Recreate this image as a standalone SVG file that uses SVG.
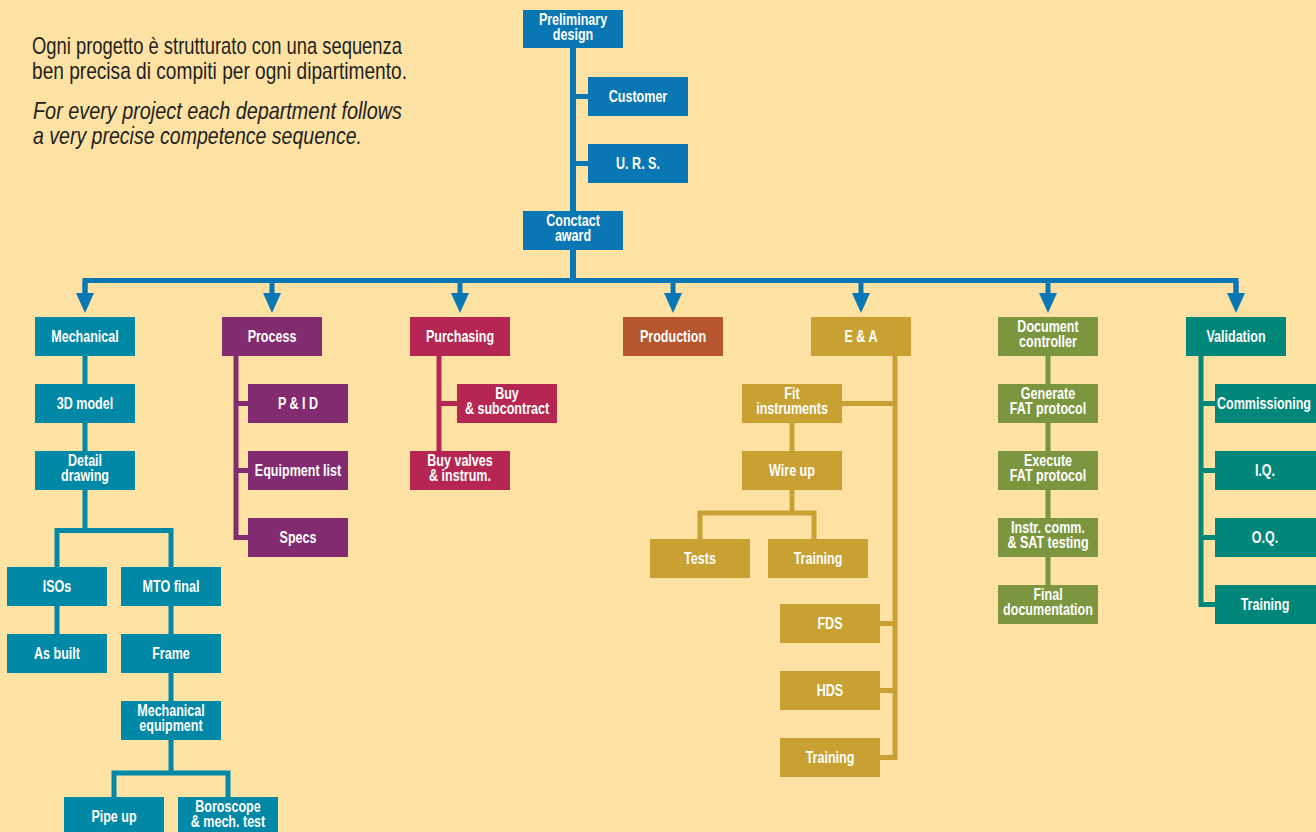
<svg xmlns="http://www.w3.org/2000/svg" width="1316" height="832" viewBox="0 0 1316 832">
<defs>
<style>
.lbl{font-family:"Liberation Sans",Arial,sans-serif;font-weight:bold;font-size:16.5px;fill:#ffffff;text-anchor:middle}
.intro{font-family:"Liberation Sans",Arial,sans-serif;font-size:24px;fill:#231f20}
.it{font-style:italic}
.blue{fill:#0a77b5}.mech{fill:#0088a6}.proc{fill:#832b70}.purch{fill:#b52652}.prod{fill:#b7552e}.ea{fill:#c8a132}.doc{fill:#7b963f}.val{fill:#00877a}
.c{fill:none;stroke-width:5;stroke-linejoin:miter;stroke-linecap:butt}
.cb{stroke:#0a77b5}.cm{stroke:#0088a6}.cp{stroke:#832b70}.cu{stroke:#b52652}.ce{stroke:#c8a132}.cd{stroke:#7b963f}.cv{stroke:#00877a}
</style>
<marker id="arr" viewBox="0 0 20 18" refX="0" refY="9" markerWidth="20" markerHeight="18" markerUnits="userSpaceOnUse" orient="auto">
<path d="M0,0 L20,9 L0,18 Z" fill="#0a77b5"/>
</marker>
</defs>
<rect width="1316" height="832" fill="#fee2a4"/>

<g id="intro">
<text class="intro" x="32" y="54" textLength="370" lengthAdjust="spacingAndGlyphs">Ogni progetto è strutturato con una sequenza</text>
<text class="intro" x="32" y="79" textLength="375" lengthAdjust="spacingAndGlyphs">ben precisa di compiti per ogni dipartimento.</text>
<text class="intro it" x="33" y="119" textLength="369" lengthAdjust="spacingAndGlyphs">For every project each department follows</text>
<text class="intro it" x="33" y="144" textLength="329" lengthAdjust="spacingAndGlyphs">a very precise competence sequence.</text>
</g>

<g id="connectors">
<path class="c cb" style="stroke-width:6" d="M573,48 V211 M573,250 V280.5"/>
<path class="c cb" d="M573,96.5 H588 M573,163.5 H588"/>
<path class="c cb" d="M85,293 V280.5 H1236 V293"/>
<g class="c cb" marker-end="url(#arr)">
<path d="M85,281 V293"/><path d="M272,281 V293"/><path d="M460,281 V293"/><path d="M673,281 V293"/><path d="M861,281 V293"/><path d="M1048,281 V293"/><path d="M1236,281 V293"/>
</g>
<path class="c cm" d="M85,356 V384 M85,423 V451 M85,490 V530.5 M57,567 V530.5 H171 V567 M57,606 V634 M171,606 V634 M171,673 V701 M171,740 V773 M114,797 V773 H228 V797"/>
<path class="c cp" d="M236,356 V537.5 H248 M236,403.5 H248 M236,470.5 H248"/>
<path class="c cu" d="M439,356 V451 M439,403.5 H457"/>
<path class="c ce" d="M895,356 V757.5 H880 M895,403.5 H842 M895,623.5 H880 M895,690.5 H880 M792,423 V451 M792,490 V513 M700,539 V513 H814 V539"/>
<path class="c cd" d="M1048,356 V585"/>
<path class="c cv" d="M1201,356 V604.5 H1215 M1201,403.5 H1215 M1201,470.5 H1215 M1201,537.5 H1215"/>
</g>

<g id="preliminary-design"><rect class="blue" x="523" y="10" width="100" height="38"/><text class="lbl" transform="matrix(0.76 0 0 1 573 0)" y="25.5">Preliminary</text><text class="lbl" transform="matrix(0.76 0 0 1 573 0)" y="40">design</text></g>
<g id="customer"><rect class="blue" x="588" y="77" width="100" height="39"/><text class="lbl" transform="matrix(0.76 0 0 1 638 0)" y="102">Customer</text></g>
<g id="urs"><rect class="blue" x="588" y="144" width="100" height="39"/><text class="lbl" transform="matrix(0.76 0 0 1 638 0)" y="169">U. R. S.</text></g>
<g id="contact-award"><rect class="blue" x="523" y="211" width="100" height="39"/><text class="lbl" transform="matrix(0.76 0 0 1 573 0)" y="226.5">Conctact</text><text class="lbl" transform="matrix(0.76 0 0 1 573 0)" y="241.5">award</text></g>

<g id="mechanical"><rect class="mech" x="35" y="317" width="100" height="39"/><text class="lbl" transform="matrix(0.76 0 0 1 85 0)" y="342">Mechanical</text></g>
<g id="model-3d"><rect class="mech" x="35" y="384" width="100" height="39"/><text class="lbl" transform="matrix(0.76 0 0 1 85 0)" y="409">3D model</text></g>
<g id="detail-drawing"><rect class="mech" x="35" y="451" width="100" height="39"/><text class="lbl" transform="matrix(0.76 0 0 1 85 0)" y="466.5">Detail</text><text class="lbl" transform="matrix(0.76 0 0 1 85 0)" y="481.5">drawing</text></g>
<g id="isos"><rect class="mech" x="7" y="567" width="100" height="39"/><text class="lbl" transform="matrix(0.76 0 0 1 57 0)" y="592">ISOs</text></g>
<g id="as-built"><rect class="mech" x="7" y="634" width="100" height="39"/><text class="lbl" transform="matrix(0.76 0 0 1 57 0)" y="659">As built</text></g>
<g id="mto-final"><rect class="mech" x="121" y="567" width="100" height="39"/><text class="lbl" transform="matrix(0.76 0 0 1 171 0)" y="592">MTO final</text></g>
<g id="frame"><rect class="mech" x="121" y="634" width="100" height="39"/><text class="lbl" transform="matrix(0.76 0 0 1 171 0)" y="659">Frame</text></g>
<g id="mechanical-equipment"><rect class="mech" x="121" y="701" width="100" height="39"/><text class="lbl" transform="matrix(0.76 0 0 1 171 0)" y="716.5">Mechanical</text><text class="lbl" transform="matrix(0.76 0 0 1 171 0)" y="731.5">equipment</text></g>
<g id="pipe-up"><rect class="mech" x="64" y="797" width="100" height="39"/><text class="lbl" transform="matrix(0.76 0 0 1 114 0)" y="822">Pipe up</text></g>
<g id="boroscope"><rect class="mech" x="178" y="797" width="100" height="39"/><text class="lbl" transform="matrix(0.76 0 0 1 228 0)" y="812.5">Boroscope</text><text class="lbl" transform="matrix(0.76 0 0 1 228 0)" y="827.5">&amp; mech. test</text></g>

<g id="process"><rect class="proc" x="222" y="317" width="100" height="39"/><text class="lbl" transform="matrix(0.76 0 0 1 272 0)" y="342">Process</text></g>
<g id="pid"><rect class="proc" x="248" y="384" width="100" height="39"/><text class="lbl" transform="matrix(0.76 0 0 1 298 0)" y="409">P &amp; I D</text></g>
<g id="equipment-list"><rect class="proc" x="248" y="451" width="100" height="39"/><text class="lbl" transform="matrix(0.76 0 0 1 298 0)" y="476">Equipment list</text></g>
<g id="specs"><rect class="proc" x="248" y="518" width="100" height="39"/><text class="lbl" transform="matrix(0.76 0 0 1 298 0)" y="543">Specs</text></g>

<g id="purchasing"><rect class="purch" x="410" y="317" width="100" height="39"/><text class="lbl" transform="matrix(0.76 0 0 1 460 0)" y="342">Purchasing</text></g>
<g id="buy-subcontract"><rect class="purch" x="457" y="384" width="100" height="39"/><text class="lbl" transform="matrix(0.76 0 0 1 507 0)" y="399.5">Buy</text><text class="lbl" transform="matrix(0.76 0 0 1 507 0)" y="414.5">&amp; subcontract</text></g>
<g id="buy-valves"><rect class="purch" x="410" y="451" width="100" height="39"/><text class="lbl" transform="matrix(0.76 0 0 1 460 0)" y="466.5">Buy valves</text><text class="lbl" transform="matrix(0.76 0 0 1 460 0)" y="481.5">&amp; instrum.</text></g>

<g id="production"><rect class="prod" x="623" y="317" width="100" height="39"/><text class="lbl" transform="matrix(0.76 0 0 1 673 0)" y="342">Production</text></g>

<g id="ea"><rect class="ea" x="811" y="317" width="100" height="39"/><text class="lbl" transform="matrix(0.76 0 0 1 861 0)" y="342">E &amp; A</text></g>
<g id="fit-instruments"><rect class="ea" x="742" y="384" width="100" height="39"/><text class="lbl" transform="matrix(0.76 0 0 1 792 0)" y="399.5">Fit</text><text class="lbl" transform="matrix(0.76 0 0 1 792 0)" y="414.5">instruments</text></g>
<g id="wire-up"><rect class="ea" x="742" y="451" width="100" height="39"/><text class="lbl" transform="matrix(0.76 0 0 1 792 0)" y="476">Wire up</text></g>
<g id="tests"><rect class="ea" x="650" y="539" width="100" height="39"/><text class="lbl" transform="matrix(0.76 0 0 1 700 0)" y="564">Tests</text></g>
<g id="training-ea1"><rect class="ea" x="768" y="539" width="100" height="39"/><text class="lbl" transform="matrix(0.76 0 0 1 818 0)" y="564">Training</text></g>
<g id="fds"><rect class="ea" x="780" y="604" width="100" height="39"/><text class="lbl" transform="matrix(0.76 0 0 1 830 0)" y="629">FDS</text></g>
<g id="hds"><rect class="ea" x="780" y="671" width="100" height="39"/><text class="lbl" transform="matrix(0.76 0 0 1 830 0)" y="696">HDS</text></g>
<g id="training-ea2"><rect class="ea" x="780" y="738" width="100" height="39"/><text class="lbl" transform="matrix(0.76 0 0 1 830 0)" y="763">Training</text></g>

<g id="document-controller"><rect class="doc" x="998" y="317" width="100" height="39"/><text class="lbl" transform="matrix(0.76 0 0 1 1048 0)" y="332.5">Document</text><text class="lbl" transform="matrix(0.76 0 0 1 1048 0)" y="347.5">controller</text></g>
<g id="generate-fat"><rect class="doc" x="998" y="384" width="100" height="39"/><text class="lbl" transform="matrix(0.76 0 0 1 1048 0)" y="399.5">Generate</text><text class="lbl" transform="matrix(0.76 0 0 1 1048 0)" y="414.5">FAT protocol</text></g>
<g id="execute-fat"><rect class="doc" x="998" y="451" width="100" height="39"/><text class="lbl" transform="matrix(0.76 0 0 1 1048 0)" y="466.5">Execute</text><text class="lbl" transform="matrix(0.76 0 0 1 1048 0)" y="481.5">FAT protocol</text></g>
<g id="instr-comm"><rect class="doc" x="998" y="518" width="100" height="39"/><text class="lbl" transform="matrix(0.76 0 0 1 1048 0)" y="533.5">Instr. comm.</text><text class="lbl" transform="matrix(0.76 0 0 1 1048 0)" y="548.5">&amp; SAT testing</text></g>
<g id="final-documentation"><rect class="doc" x="998" y="585" width="100" height="39"/><text class="lbl" transform="matrix(0.76 0 0 1 1048 0)" y="600.5">Final</text><text class="lbl" transform="matrix(0.76 0 0 1 1048 0)" y="615.5">documentation</text></g>

<g id="validation"><rect class="val" x="1186" y="317" width="100" height="39"/><text class="lbl" transform="matrix(0.76 0 0 1 1236 0)" y="342">Validation</text></g>
<g id="commissioning"><rect class="val" x="1215" y="384" width="101" height="39"/><text class="lbl" transform="matrix(0.76 0 0 1 1264 0)" y="409">Commissioning</text></g>
<g id="iq"><rect class="val" x="1215" y="451" width="101" height="39"/><text class="lbl" transform="matrix(0.76 0 0 1 1265 0)" y="476">I.Q.</text></g>
<g id="oq"><rect class="val" x="1215" y="518" width="101" height="39"/><text class="lbl" transform="matrix(0.76 0 0 1 1265 0)" y="543">O.Q.</text></g>
<g id="training-val"><rect class="val" x="1215" y="585" width="101" height="39"/><text class="lbl" transform="matrix(0.76 0 0 1 1265 0)" y="610">Training</text></g>
</svg>
